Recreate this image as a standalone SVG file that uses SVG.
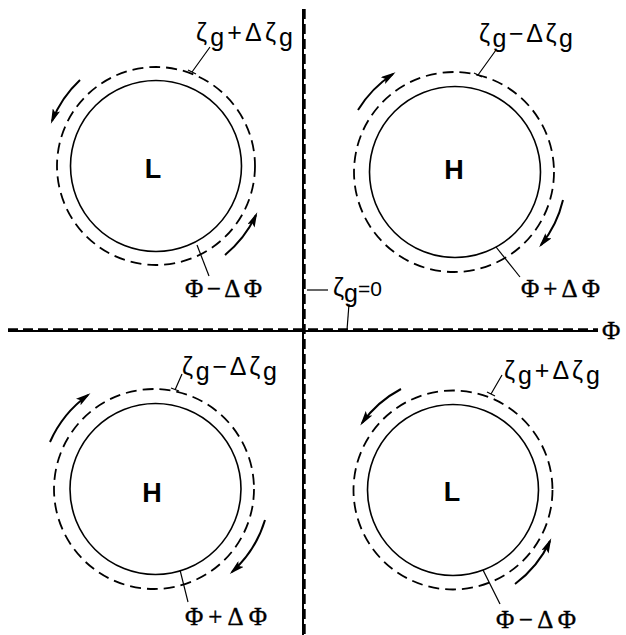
<svg xmlns="http://www.w3.org/2000/svg" width="626" height="635" viewBox="0 0 626 635">
<style>
.solid{fill:none;stroke:#000;stroke-width:1.6}
.dash{fill:none;stroke:#000;stroke-width:1.8;stroke-dasharray:11 6}
.arr{fill:none;stroke:#000;stroke-width:2}
.lead{fill:none;stroke:#000;stroke-width:1.2}
.zl{font-family:"Liberation Sans",Arial,sans-serif;font-size:25px;fill:#000}
.pl{font-family:"Liberation Serif","Times New Roman",serif;font-size:25px;fill:#000;stroke:#000;stroke-width:0.4}
.big{font-family:"Liberation Sans",Arial,sans-serif;font-size:27px;font-weight:bold;fill:#000;text-anchor:middle}
</style>
<defs>
<marker id="ah" viewBox="0 0 15 8" refX="12" refY="4" markerWidth="15" markerHeight="8" markerUnits="userSpaceOnUse" orient="auto">
<path d="M0,0 L15,4 L0,8 L3,4 z" fill="#000"/>
</marker>
</defs>
<rect width="626" height="635" fill="#fff"/>

<g id="axes">
<line x1="8" y1="331" x2="598" y2="331" stroke="#000" stroke-width="2"/>
<line x1="8" y1="329.3" x2="598" y2="329.3" stroke="#000" stroke-width="2.2" stroke-dasharray="10 5"/>
<line x1="303" y1="9" x2="303" y2="635" stroke="#000" stroke-width="2"/>
<line x1="304.6" y1="9" x2="304.6" y2="635" stroke="#000" stroke-width="2.2" stroke-dasharray="10 5"/>
<text class="pl" x="602" y="339">Φ</text>
<text class="zl" x="333" y="296" font-size="23">ζ<tspan dy="6">g</tspan><tspan dy="-6" font-size="21">=0</tspan></text>
</g>

<g id="low-top-left">
<circle class="solid" cx="156" cy="166" r="85.5"/>
<circle class="dash" cx="156" cy="166" r="99"/>
<text class="big" x="153" y="178">L</text>
<text class="zl" x="196" y="41" textLength="97" lengthAdjust="spacing">ζ<tspan dy="5">g</tspan><tspan dy="-5">+Δζ</tspan><tspan dy="5">g</tspan></text>
<text class="pl" x="185" y="297" textLength="77" lengthAdjust="spacing">Φ−ΔΦ</text>
</g>

<g id="high-top-right">
<circle class="solid" cx="455" cy="172" r="85.5"/>
<circle class="dash" cx="454" cy="172" r="100"/>
<text class="big" x="454" y="179">H</text>
<text class="zl" x="479" y="42" textLength="94" lengthAdjust="spacing">ζ<tspan dy="5">g</tspan><tspan dy="-5">−Δζ</tspan><tspan dy="5">g</tspan></text>
<text class="pl" x="521" y="297" textLength="79" lengthAdjust="spacing">Φ+ΔΦ</text>
</g>

<g id="high-bottom-left">
<circle class="solid" cx="155.5" cy="489" r="85.5"/>
<circle class="dash" cx="154" cy="489" r="100"/>
<text class="big" x="152" y="502">H</text>
<text class="zl" x="182" y="375" textLength="95" lengthAdjust="spacing">ζ<tspan dy="5">g</tspan><tspan dy="-5">−Δζ</tspan><tspan dy="5">g</tspan></text>
<text class="pl" x="185" y="625" textLength="82" lengthAdjust="spacing">Φ+ΔΦ</text>
</g>

<g id="low-bottom-right">
<circle class="solid" cx="453" cy="490" r="85.5"/>
<circle class="dash" cx="453" cy="490" r="99.5"/>
<text class="big" x="452" y="501">L</text>
<text class="zl" x="504" y="379" textLength="96" lengthAdjust="spacing">ζ<tspan dy="5">g</tspan><tspan dy="-5">+Δζ</tspan><tspan dy="5">g</tspan></text>
<text class="pl" x="496" y="628" textLength="80" lengthAdjust="spacing">Φ−ΔΦ</text>
</g>

<g id="connectors">
<path class="arr" marker-end="url(#ah)" d="M80,80 A114,114 0 0 0 52,121"/>
<path class="arr" marker-end="url(#ah)" d="M225,255 A113,113 0 0 0 256,215"/>
<path class="arr" marker-end="url(#ah)" d="M358,110 A114,114 0 0 1 393,74"/>
<path class="arr" marker-end="url(#ah)" d="M563,200 A113,113 0 0 1 541,245"/>
<path class="arr" marker-end="url(#ah)" d="M50,442 A115,115 0 0 1 88,395"/>
<path class="arr" marker-end="url(#ah)" d="M265,520 A114,114 0 0 1 232,572"/>
<path class="arr" marker-end="url(#ah)" d="M401,389 A113,113 0 0 0 362,423"/>
<path class="arr" marker-end="url(#ah)" d="M515,584 A112,112 0 0 0 550,541"/>

<path class="lead" d="M210,47 L192,72 M188,70 L196,74"/>
<path class="lead" d="M197,245 L209,276"/>
<path class="lead" d="M496,50 L478,75 M474,73 L482,77"/>
<path class="lead" d="M496,247 L520,277"/>
<path class="lead" d="M182,374 L175,390 M171,388 L179,391"/>
<path class="lead" d="M180,570 L188,602"/>
<path class="lead" d="M502,375 L491,394 M487,392 L495,396"/>
<path class="lead" d="M483,570 L500,604"/>
<path class="lead" d="M307,290 L328,290"/>
<path class="lead" d="M349,304 L347,330"/>
</g>
</svg>
